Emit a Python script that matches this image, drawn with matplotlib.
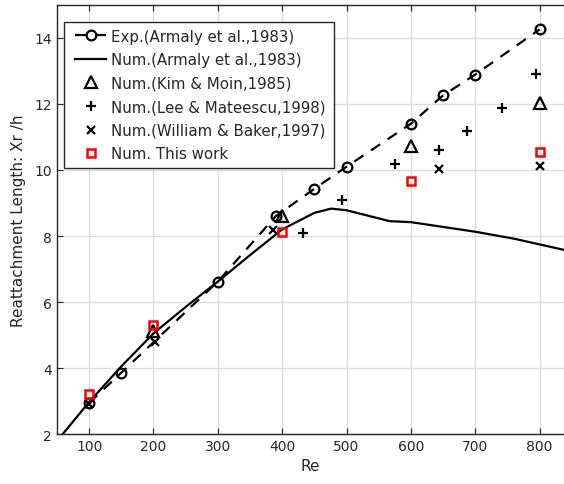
import matplotlib
matplotlib.use("Agg")
import matplotlib.pyplot as plt
from matplotlib.patches import Rectangle

# Experimental reattachment lengths (Armaly et al., 1983)
exp_re = [100, 150, 300, 390, 450, 500, 600, 650, 700, 800]
exp_xr = [2.94, 3.86, 6.62, 8.60, 9.43, 10.10, 11.40, 12.26, 12.89, 14.26]

# Numerical curve (Armaly et al., 1983)
num_re = [59, 100, 150, 200, 250, 300, 350, 400, 450, 476, 500, 567, 600, 700, 760, 838]
num_xr = [2.00, 2.97, 4.05, 5.05, 5.85, 6.62, 7.42, 8.20, 8.70, 8.83, 8.78, 8.45, 8.42, 8.13, 7.92, 7.58]

# Kim & Moin (1985)
km_re = [200, 400, 600, 800]
km_xr = [5.11, 8.62, 10.72, 12.02]

# Lee & Mateescu (1998)
lm_re = [433, 493, 575, 643, 688, 741, 795]
lm_xr = [8.09, 9.08, 10.19, 10.60, 11.18, 11.89, 12.90]

# William & Baker (1997)
wb_re = [100, 202, 385, 643, 800]
wb_xr = [2.92, 4.79, 8.17, 10.03, 10.12]

# Present computations
tw_re = [100, 200, 400, 600, 800]
tw_xr = [3.22, 5.31, 8.12, 9.66, 10.55]

xticks = [100, 200, 300, 400, 500, 600, 700, 800]
yticks = [2, 4, 6, 8, 10, 12, 14]

txt = "#262626"
plt.rcParams["font.family"] = ["DejaVu Sans"]

fig = plt.figure(figsize=(5.64, 4.85), dpi=100)
ax = fig.add_axes([0.101, 0.103, 0.899, 0.8847])

ax.plot(exp_re, exp_xr, color="black", linestyle=(0, (5, 4)), linewidth=1.6,
        marker="o", markersize=7, markerfacecolor="none", markeredgewidth=1.6,
        label="Exp.(Armaly et al.,1983)", zorder=3)
ax.plot(num_re, num_xr, color="black", linewidth=1.6,
        label="Num.(Armaly et al.,1983)", zorder=3)
ax.plot(km_re, km_xr, linestyle="none", marker="^", markersize=8,
        markerfacecolor="none", markeredgecolor="black", markeredgewidth=1.6,
        label="Num.(Kim & Moin,1985)", zorder=4)
ax.plot(lm_re, lm_xr, linestyle="none", marker="+", markersize=7,
        markeredgecolor="black", markeredgewidth=1.6,
        label="Num.(Lee & Mateescu,1998)", zorder=4)
ax.plot(wb_re, wb_xr, linestyle="none", marker="x", markersize=5.5,
        markeredgecolor="black", markeredgewidth=1.6,
        label="Num.(William & Baker,1997)", zorder=4)
ax.plot(tw_re, tw_xr, linestyle="none", marker="s", markersize=6,
        markerfacecolor="none", markeredgecolor="red", markeredgewidth=1.8,
        label="Num. This work", zorder=5)

ax.set_xlim(50, 838)
ax.set_ylim(2, 15)
ax.set_xticks(xticks)
ax.set_yticks(yticks)
ax.grid(True, color="#dcdcdc", linewidth=1.0)
ax.set_axisbelow(True)

for side in ("left", "bottom", "top"):
    ax.spines[side].set_color(txt)
    ax.spines[side].set_linewidth(1.0)
ax.spines["right"].set_visible(False)

ax.tick_params(axis="both", direction="in", length=4, width=0.8, colors=txt,
               labelsize=10, labelcolor=txt, top=True)

ax.set_xlabel("Re", fontsize=11, color=txt, labelpad=4)
ax.set_ylabel("Reattachment Length: Xr /h", fontsize=11, color=txt, labelpad=6)

# Legend without its own frame; a boxed background is drawn around it below
leg = ax.legend(loc="upper left", bbox_to_anchor=(0.0355, 0.945), fontsize=10.8,
                frameon=False, handlelength=2.1, handletextpad=0.3,
                labelspacing=0.57, borderpad=0.0, borderaxespad=0.0)
leg.set_zorder(10)
for t in leg.get_texts():
    t.set_color(txt)

fig.canvas.draw()
bb = leg.get_window_extent(fig.canvas.get_renderer())
pad_x, pad_y = 11, 6.5
x0, y0 = fig.transFigure.inverted().transform((bb.x0 - pad_x, bb.y0 - pad_y))
x1, y1 = fig.transFigure.inverted().transform((bb.x1 + pad_x - 3, bb.y1 + pad_y))
box = Rectangle((x0, y0), x1 - x0, y1 - y0, transform=fig.transFigure,
                facecolor="white", edgecolor=txt, linewidth=1.0, zorder=9,
                clip_on=False)
ax.add_artist(box)

fig.savefig("out.png", dpi=100)
